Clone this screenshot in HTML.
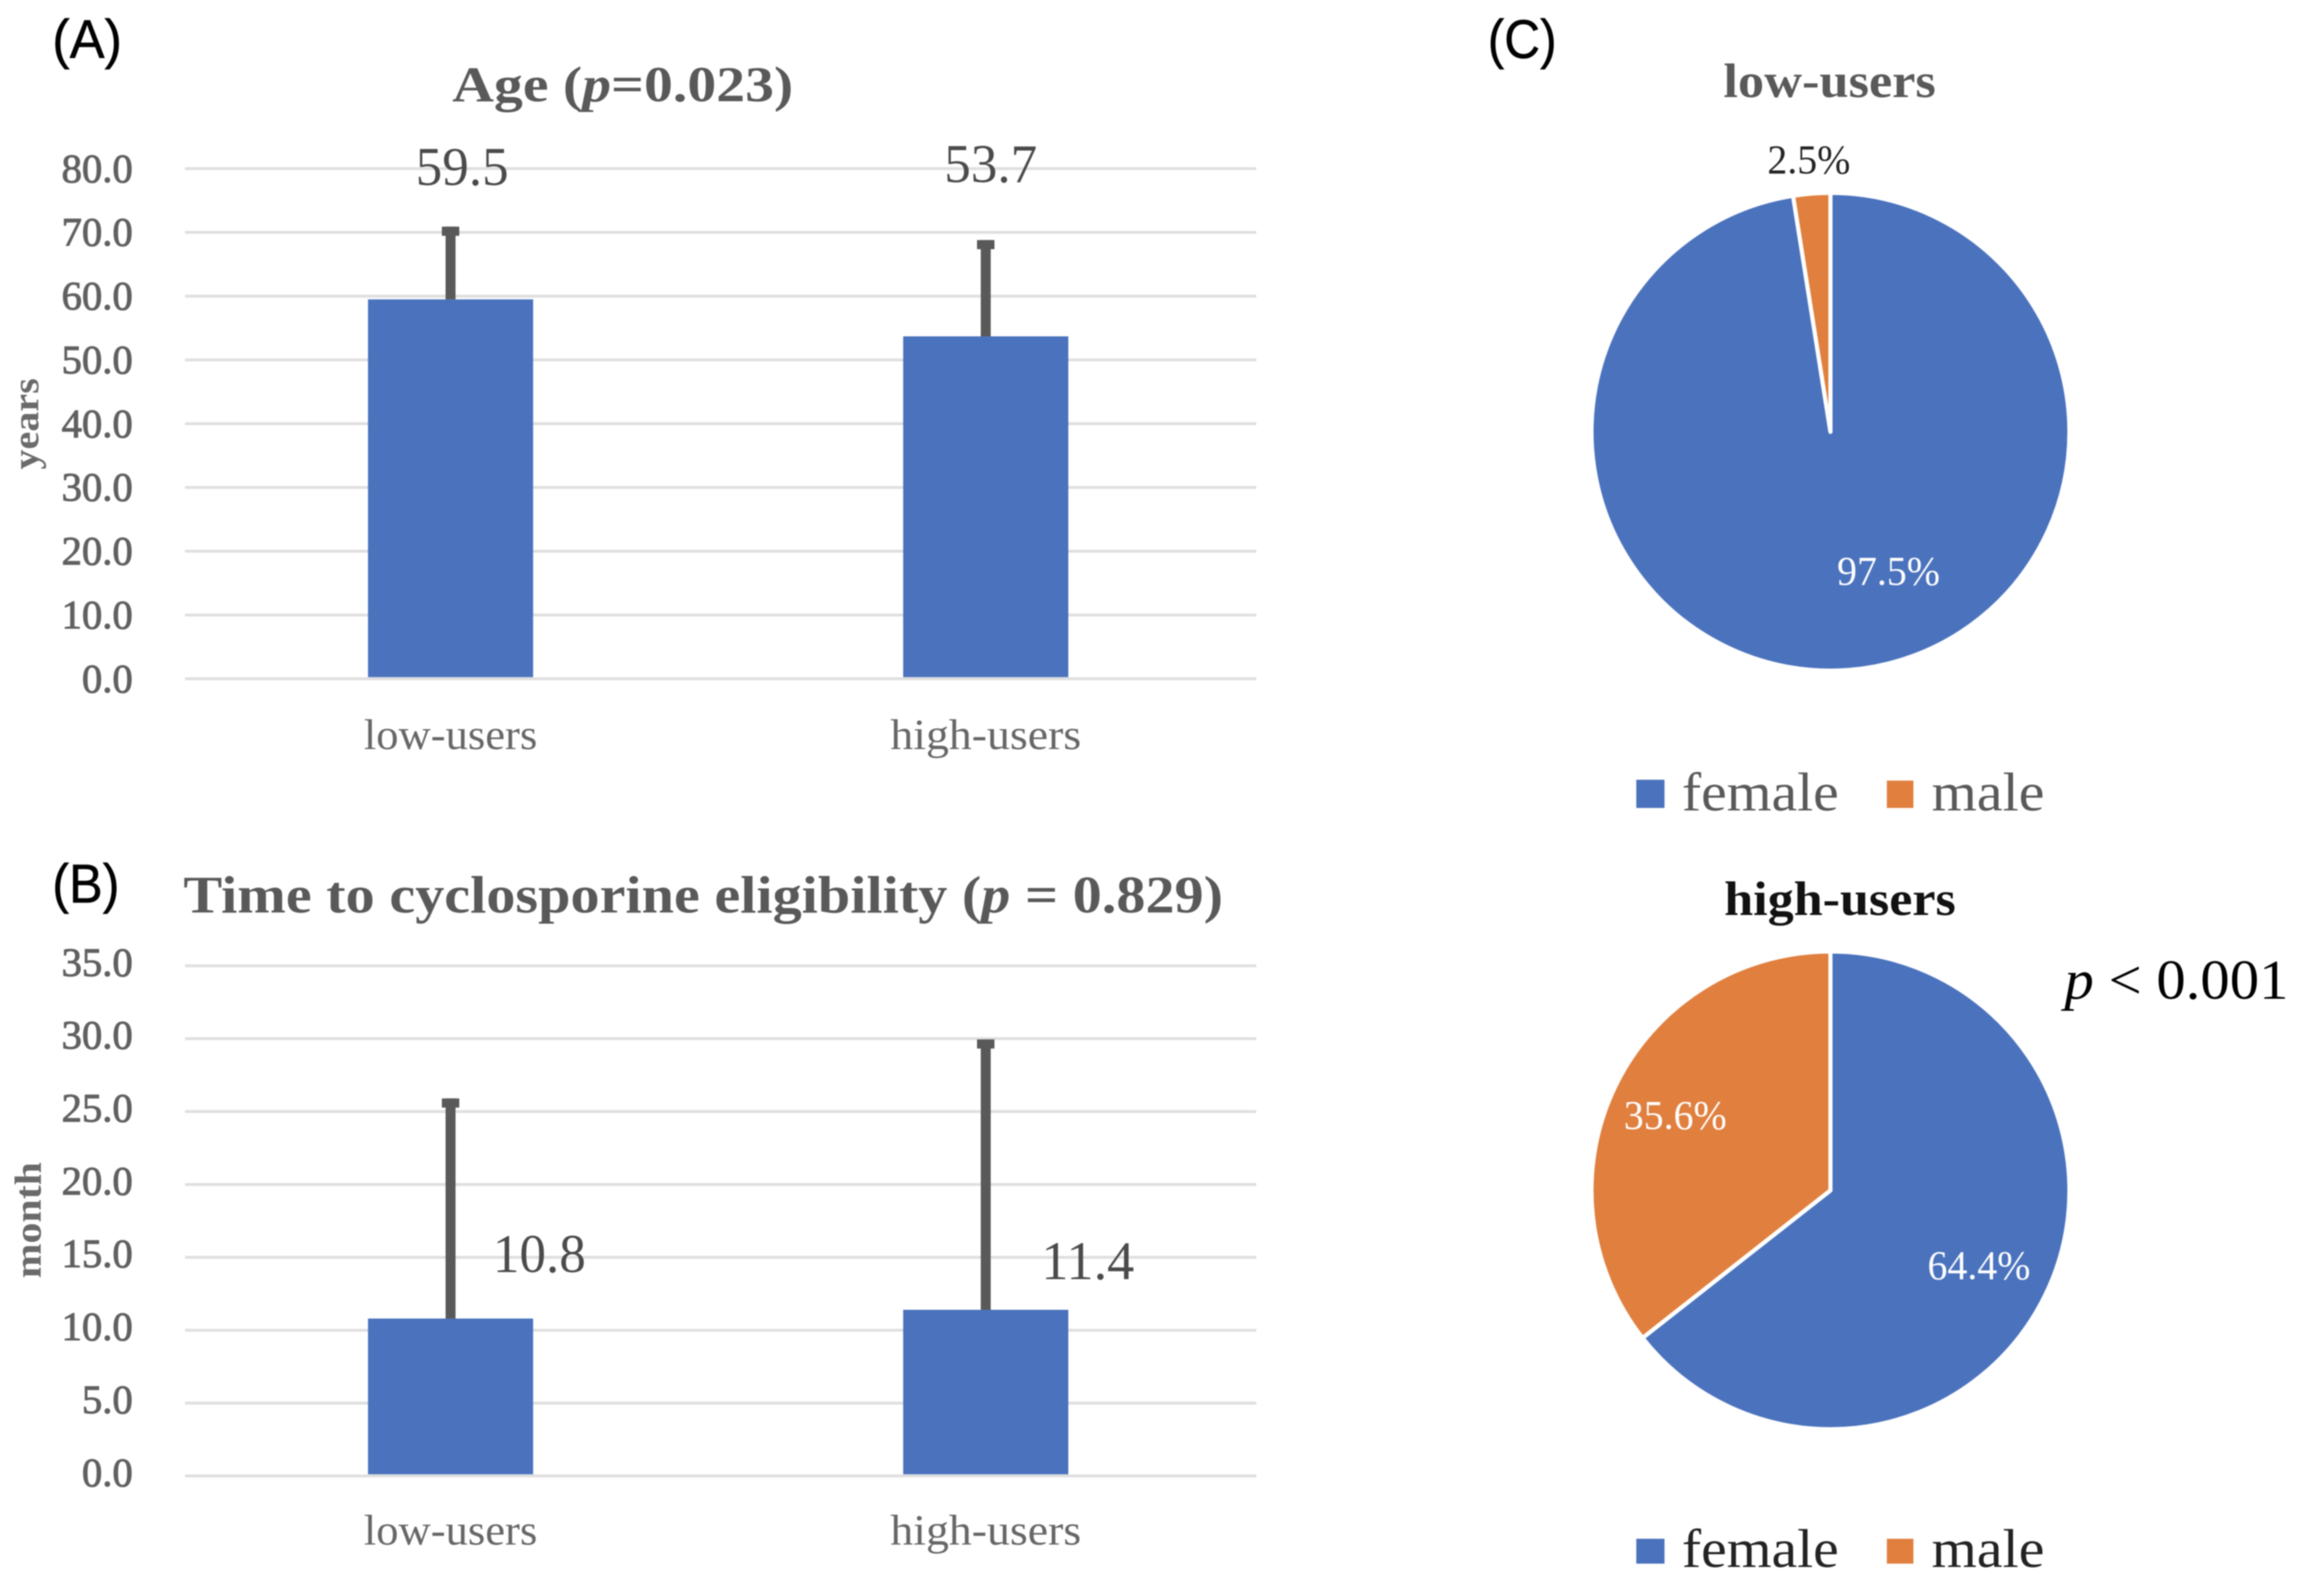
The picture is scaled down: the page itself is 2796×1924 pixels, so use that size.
<!DOCTYPE html>
<html lang="en">
<head>
<meta charset="utf-8">
<title>Age, time to eligibility and sex by user group</title>
<style>
  html, body { margin: 0; padding: 0; background: #ffffff; }
  #figure { display: block; width: 2796px; height: 1924px; filter: blur(0.9px); }
  text { font-family: "Liberation Serif", serif; }
  .panel { font-family: "Liberation Sans", sans-serif; fill: #000000; font-size: 66px; stroke: #000000; stroke-width: 0.6px; }
  .tick { font-size: 49px; fill: #606060; stroke: #606060; stroke-width: 1.1px; text-anchor: end; }
  .cat { font-size: 52px; fill: #666666; text-anchor: middle; }
  .val { font-size: 66px; fill: #4a4a4a; text-anchor: middle; }
  .title { font-weight: bold; fill: #595959; }
  .axis-title { font-weight: bold; fill: #6a6a6a; text-anchor: middle; }
  .legend { font-size: 66px; fill: #595959; }
  .pct { font-size: 50px; }
</style>
</head>
<body>
<svg id="figure" xmlns="http://www.w3.org/2000/svg" width="2796" height="1924" viewBox="0 0 2796 1924">
  <rect x="0" y="0" width="2796" height="1924" fill="#ffffff"/>

  <g id="panelA">
    <text class="panel" x="63" y="70" textLength="84" lengthAdjust="spacingAndGlyphs">(A)</text>
    <text class="title" x="545" y="122" font-size="60" textLength="411" lengthAdjust="spacingAndGlyphs">Age (<tspan font-style="italic">p</tspan>=0.023)</text>
    <text class="axis-title" transform="translate(46 511) rotate(-90)" font-size="44" textLength="110" lengthAdjust="spacingAndGlyphs">years</text>
  </g>

  <g id="panelB">
    <text class="panel" x="63" y="1088" textLength="81" lengthAdjust="spacingAndGlyphs">(B)</text>
    <text class="title" x="221" y="1100" font-size="64" textLength="1253" lengthAdjust="spacingAndGlyphs">Time to cyclosporine eligibility (<tspan font-style="italic">p</tspan> = 0.829)</text>
    <text class="axis-title" transform="translate(49 1471) rotate(-90)" font-size="46" textLength="140" lengthAdjust="spacingAndGlyphs">month</text>
  </g>

  <g id="panelC">
    <text class="panel" x="1793" y="70" textLength="83" lengthAdjust="spacingAndGlyphs">(C)</text>
    <text class="title" x="2077" y="117" font-size="58" textLength="256" lengthAdjust="spacingAndGlyphs">low-users</text>
    <text class="title" x="2078" y="1103" font-size="58" textLength="279" lengthAdjust="spacingAndGlyphs" style="fill:#111111">high-users</text>
    <text x="2488" y="1204" font-size="68" fill="#000000" textLength="270" lengthAdjust="spacingAndGlyphs"><tspan font-style="italic">p</tspan> &lt; 0.001</text>

    <rect x="1972" y="940" width="34" height="34" fill="#4a72bd"/>
    <text class="legend" x="2027" y="977" textLength="189" lengthAdjust="spacingAndGlyphs">female</text>
    <rect x="2274" y="941" width="32" height="33" fill="#e07f3e"/>
    <text class="legend" x="2328" y="977" textLength="136" lengthAdjust="spacingAndGlyphs">male</text>

    <rect x="1972" y="1855" width="34" height="30" fill="#4a72bd"/>
    <text class="legend" x="2027" y="1889" textLength="189" lengthAdjust="spacingAndGlyphs" style="fill:#222222">female</text>
    <rect x="2274" y="1855" width="32" height="30" fill="#e07f3e"/>
    <text class="legend" x="2328" y="1889" textLength="136" lengthAdjust="spacingAndGlyphs" style="fill:#222222">male</text>
  </g>
</svg>

<script>
const categories = ["low-users", "high-users"];

const ageTicks = [0, 10, 20, 30, 40, 50, 60, 70, 80];
const ageMeans = [59.5, 53.7];
const ageUpper = [70.9, 68.8];

const eligibilityTicks = [0, 5, 10, 15, 20, 25, 30, 35];
const eligibilityMeans = [10.8, 11.4];
const eligibilityUpper = [25.9, 29.95];

const pieLowValues = [97.5, 2.5];
const pieHighValues = [64.4, 35.6];

const NS = "http://www.w3.org/2000/svg";
const BLUE = "#4a72bd";
const ORANGE = "#e07f3e";
const GRID_LEFT = 223;
const GRID_RIGHT = 1514;
const BAR_WIDTH = 199;

function make(tag, parent, attrs, content) {
  const el = document.createElementNS(NS, tag);
  for (const k in attrs) el.setAttribute(k, attrs[k]);
  if (content !== undefined) el.textContent = content;
  parent.appendChild(el);
  return el;
}

function xCenter(i) {
  return 543 + i * 645;
}

function linearY(maxValue, y0, yMax) {
  return function (v) {
    return y0 + (yMax - y0) * (v / maxValue);
  };
}

function drawBarChart(parent, prefix, ticks, means, upper, y, tickOffset, catBaseline) {
  ticks.forEach(function (t) {
    const line = make("line", parent, { x1: GRID_LEFT, x2: GRID_RIGHT, y1: y(t), y2: y(t), stroke: "#dfdfdf", "stroke-width": 3.5 });
    
    
    const label = make("text", parent, { class: "tick", x: 160, y: y(t) + tickOffset }, t.toFixed(1));
    
    
  });
  means.forEach(function (m, i) {
    const cx = xCenter(i);
    const top = y(m);
    const bar = make("rect", parent, { x: cx - BAR_WIDTH / 2, y: top, width: BAR_WIDTH, height: y(0) - 2 - top, fill: BLUE });
    
    
    const up = y(upper[i]);
    const stem = make("rect", parent, { x: cx - 6, y: up, width: 12, height: top - up, fill: "#595959" });
    
    
    const cap = make("rect", parent, { x: cx - 10.5, y: up, width: 21, height: 11, fill: "#595959" });
    
    
    const cat = make("text", parent, { class: "cat", x: cx, y: catBaseline, textLength: i === 0 ? 209 : 230, lengthAdjust: "spacingAndGlyphs" }, categories[i]);
    
    
  });
}

function drawValueLabel(parent, prefix, value, x, yPos) {
  const t = make("text", parent, { class: "val", x: x, y: yPos, textLength: 112, lengthAdjust: "spacingAndGlyphs" }, value.toFixed(1));
  
  
}

function polar(cx, cy, r, frac) {
  const a = frac * 2 * Math.PI;
  return [cx + r * Math.sin(a), cy - r * Math.cos(a)];
}

function drawPie(parent, prefix, values, cx, cy, r) {
  const total = values.reduce(function (a, b) { return a + b; }, 0);
  const colors = [BLUE, ORANGE];
  const names = ["female", "male"];
  let start = 0;
  values.forEach(function (v, i) {
    const end = start + v / total;
    const p0 = polar(cx, cy, r, start);
    const p1 = polar(cx, cy, r, end);
    const large = end - start > 0.5 ? 1 : 0;
    const d = "M" + cx + " " + cy + " L" + p0[0] + " " + p0[1] + " A" + r + " " + r + " 0 " + large + " 1 " + p1[0] + " " + p1[1] + " Z";
    const slice = make("path", parent, { d: d, fill: colors[i], stroke: "#ffffff", "stroke-width": 5, "stroke-linejoin": "round" });
    
    
    start = end;
  });
}

function drawPct(parent, name, value, x, yPos, color, width) {
  const t = make("text", parent, { class: "pct", x: x, y: yPos, fill: color, textLength: width, lengthAdjust: "spacingAndGlyphs" }, value.toFixed(1) + "%");
  
  
}

const panelA = document.getElementById("panelA");
const panelB = document.getElementById("panelB");
const panelC = document.getElementById("panelC");

const yAge = linearY(80, 818.3, 203.3);
drawBarChart(panelA, "age", ageTicks, ageMeans, ageUpper, yAge, 16, 903);
drawValueLabel(panelA, "age", ageMeans[0], xCenter(0) + 14, yAge(ageMeans[0]) - 138);
drawValueLabel(panelA, "age", ageMeans[1], xCenter(1) + 6, yAge(ageMeans[1]) - 186);

const yElig = linearY(35, 1779.3, 1164.3);
drawBarChart(panelB, "eligibility", eligibilityTicks, eligibilityMeans, eligibilityUpper, yElig, 12, 1862);
drawValueLabel(panelB, "eligibility", eligibilityMeans[0], xCenter(0) + 107, yElig(eligibilityMeans[0]) - 56);
drawValueLabel(panelB, "eligibility", eligibilityMeans[1], xCenter(1) + 123, yElig(eligibilityMeans[1]) - 37);

drawPie(panelC, "low-users", pieLowValues, 2206, 520.5, 288);
drawPct(panelC, "low-users-female-percent", pieLowValues[0], 2214, 705, "#ffffff", 124);
drawPct(panelC, "low-users-male-percent", pieLowValues[1], 2130, 209, "#222222", 100);

drawPie(panelC, "high-users", pieHighValues, 2206, 1435, 288);
drawPct(panelC, "high-users-female-percent", pieHighValues[0], 2323, 1542, "#ffffff", 124);
drawPct(panelC, "high-users-male-percent", pieHighValues[1], 1957, 1361, "#ffffff", 124);
</script>
</body>
</html>
